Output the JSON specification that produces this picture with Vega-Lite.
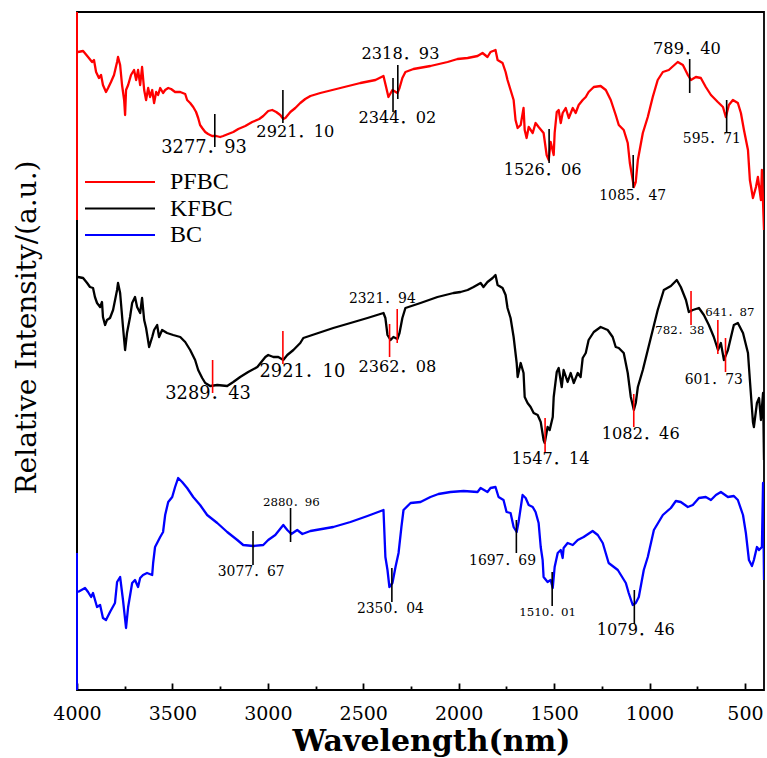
{
"$schema": "https://vega.github.io/schema/vega-lite/v6.json",
"width": 687, "height": 678,
"autosize": {"type": "none"},
"padding": {"left": 77, "top": 12, "right": 3, "bottom": 68},
"background": "white",
"view": {"stroke": "black", "strokeWidth": 1.8},
"datasets": {
"spectra": [
{"series":"PFBC","wavenumber":3995,"intensity":638},{"series":"PFBC","wavenumber":3968,"intensity":639},{"series":"PFBC","wavenumber":3942,"intensity":633},{"series":"PFBC","wavenumber":3921,"intensity":628},{"series":"PFBC","wavenumber":3911,"intensity":630},{"series":"PFBC","wavenumber":3900,"intensity":618},{"series":"PFBC","wavenumber":3885,"intensity":612},{"series":"PFBC","wavenumber":3874,"intensity":615},{"series":"PFBC","wavenumber":3864,"intensity":605},{"series":"PFBC","wavenumber":3848,"intensity":598},{"series":"PFBC","wavenumber":3837,"intensity":602},{"series":"PFBC","wavenumber":3822,"intensity":608},{"series":"PFBC","wavenumber":3806,"intensity":615},{"series":"PFBC","wavenumber":3790,"intensity":628},{"series":"PFBC","wavenumber":3785,"intensity":633},{"series":"PFBC","wavenumber":3774,"intensity":625},{"series":"PFBC","wavenumber":3764,"intensity":605},{"series":"PFBC","wavenumber":3753,"intensity":590},{"series":"PFBC","wavenumber":3748,"intensity":575},{"series":"PFBC","wavenumber":3743,"intensity":600},{"series":"PFBC","wavenumber":3732,"intensity":605},{"series":"PFBC","wavenumber":3717,"intensity":615},{"series":"PFBC","wavenumber":3701,"intensity":620},{"series":"PFBC","wavenumber":3690,"intensity":610},{"series":"PFBC","wavenumber":3680,"intensity":620},{"series":"PFBC","wavenumber":3669,"intensity":605},{"series":"PFBC","wavenumber":3659,"intensity":623},{"series":"PFBC","wavenumber":3648,"intensity":600},{"series":"PFBC","wavenumber":3638,"intensity":590},{"series":"PFBC","wavenumber":3627,"intensity":602},{"series":"PFBC","wavenumber":3617,"intensity":593},{"series":"PFBC","wavenumber":3606,"intensity":600},{"series":"PFBC","wavenumber":3596,"intensity":587},{"series":"PFBC","wavenumber":3585,"intensity":598},{"series":"PFBC","wavenumber":3575,"intensity":595},{"series":"PFBC","wavenumber":3564,"intensity":602},{"series":"PFBC","wavenumber":3549,"intensity":597},{"series":"PFBC","wavenumber":3538,"intensity":600},{"series":"PFBC","wavenumber":3522,"intensity":602},{"series":"PFBC","wavenumber":3507,"intensity":601},{"series":"PFBC","wavenumber":3486,"intensity":598},{"series":"PFBC","wavenumber":3459,"intensity":598},{"series":"PFBC","wavenumber":3433,"intensity":596},{"series":"PFBC","wavenumber":3423,"intensity":590},{"series":"PFBC","wavenumber":3407,"intensity":587},{"series":"PFBC","wavenumber":3391,"intensity":583},{"series":"PFBC","wavenumber":3376,"intensity":578},{"series":"PFBC","wavenumber":3365,"intensity":572},{"series":"PFBC","wavenumber":3355,"intensity":565},{"series":"PFBC","wavenumber":3344,"intensity":562},{"series":"PFBC","wavenumber":3328,"intensity":558},{"series":"PFBC","wavenumber":3313,"intensity":556},{"series":"PFBC","wavenumber":3292,"intensity":554},{"series":"PFBC","wavenumber":3271,"intensity":554},{"series":"PFBC","wavenumber":3250,"intensity":553},{"series":"PFBC","wavenumber":3234,"intensity":554},{"series":"PFBC","wavenumber":3208,"intensity":556},{"series":"PFBC","wavenumber":3181,"intensity":558},{"series":"PFBC","wavenumber":3155,"intensity":561},{"series":"PFBC","wavenumber":3118,"intensity":564},{"series":"PFBC","wavenumber":3082,"intensity":568},{"series":"PFBC","wavenumber":3045,"intensity":571},{"series":"PFBC","wavenumber":3024,"intensity":574},{"series":"PFBC","wavenumber":2998,"intensity":579},{"series":"PFBC","wavenumber":2977,"intensity":580},{"series":"PFBC","wavenumber":2956,"intensity":578},{"series":"PFBC","wavenumber":2935,"intensity":575},{"series":"PFBC","wavenumber":2919,"intensity":571},{"series":"PFBC","wavenumber":2908,"intensity":572},{"series":"PFBC","wavenumber":2882,"intensity":578},{"series":"PFBC","wavenumber":2856,"intensity":582},{"series":"PFBC","wavenumber":2830,"intensity":587},{"series":"PFBC","wavenumber":2804,"intensity":591},{"series":"PFBC","wavenumber":2777,"intensity":594},{"series":"PFBC","wavenumber":2725,"intensity":597},{"series":"PFBC","wavenumber":2620,"intensity":602},{"series":"PFBC","wavenumber":2515,"intensity":607},{"series":"PFBC","wavenumber":2436,"intensity":610},{"series":"PFBC","wavenumber":2394,"intensity":614},{"series":"PFBC","wavenumber":2379,"intensity":602},{"series":"PFBC","wavenumber":2368,"intensity":593},{"series":"PFBC","wavenumber":2347,"intensity":600},{"series":"PFBC","wavenumber":2321,"intensity":597},{"series":"PFBC","wavenumber":2310,"intensity":602},{"series":"PFBC","wavenumber":2295,"intensity":612},{"series":"PFBC","wavenumber":2279,"intensity":618},{"series":"PFBC","wavenumber":2237,"intensity":621},{"series":"PFBC","wavenumber":2148,"intensity":624},{"series":"PFBC","wavenumber":2058,"intensity":628},{"series":"PFBC","wavenumber":2006,"intensity":631},{"series":"PFBC","wavenumber":1953,"intensity":632},{"series":"PFBC","wavenumber":1901,"intensity":634},{"series":"PFBC","wavenumber":1875,"intensity":637},{"series":"PFBC","wavenumber":1849,"intensity":633},{"series":"PFBC","wavenumber":1833,"intensity":638},{"series":"PFBC","wavenumber":1807,"intensity":640},{"series":"PFBC","wavenumber":1796,"intensity":630},{"series":"PFBC","wavenumber":1770,"intensity":627},{"series":"PFBC","wavenumber":1754,"intensity":618},{"series":"PFBC","wavenumber":1744,"intensity":610},{"series":"PFBC","wavenumber":1728,"intensity":600},{"series":"PFBC","wavenumber":1712,"intensity":590},{"series":"PFBC","wavenumber":1702,"intensity":570},{"series":"PFBC","wavenumber":1691,"intensity":562},{"series":"PFBC","wavenumber":1675,"intensity":565},{"series":"PFBC","wavenumber":1660,"intensity":582},{"series":"PFBC","wavenumber":1654,"intensity":560},{"series":"PFBC","wavenumber":1644,"intensity":552},{"series":"PFBC","wavenumber":1633,"intensity":563},{"series":"PFBC","wavenumber":1612,"intensity":557},{"series":"PFBC","wavenumber":1597,"intensity":567},{"series":"PFBC","wavenumber":1581,"intensity":563},{"series":"PFBC","wavenumber":1555,"intensity":557},{"series":"PFBC","wavenumber":1539,"intensity":535},{"series":"PFBC","wavenumber":1528,"intensity":530},{"series":"PFBC","wavenumber":1518,"intensity":548},{"series":"PFBC","wavenumber":1502,"intensity":535},{"series":"PFBC","wavenumber":1497,"intensity":557},{"series":"PFBC","wavenumber":1486,"intensity":578},{"series":"PFBC","wavenumber":1476,"intensity":580},{"series":"PFBC","wavenumber":1465,"intensity":567},{"series":"PFBC","wavenumber":1455,"intensity":577},{"series":"PFBC","wavenumber":1439,"intensity":582},{"series":"PFBC","wavenumber":1423,"intensity":572},{"series":"PFBC","wavenumber":1402,"intensity":582},{"series":"PFBC","wavenumber":1387,"intensity":577},{"series":"PFBC","wavenumber":1371,"intensity":585},{"series":"PFBC","wavenumber":1350,"intensity":590},{"series":"PFBC","wavenumber":1334,"intensity":593},{"series":"PFBC","wavenumber":1319,"intensity":598},{"series":"PFBC","wavenumber":1292,"intensity":603},{"series":"PFBC","wavenumber":1256,"intensity":604},{"series":"PFBC","wavenumber":1229,"intensity":600},{"series":"PFBC","wavenumber":1203,"intensity":590},{"series":"PFBC","wavenumber":1177,"intensity":575},{"series":"PFBC","wavenumber":1161,"intensity":565},{"series":"PFBC","wavenumber":1135,"intensity":560},{"series":"PFBC","wavenumber":1114,"intensity":547},{"series":"PFBC","wavenumber":1103,"intensity":527},{"series":"PFBC","wavenumber":1088,"intensity":510},{"series":"PFBC","wavenumber":1082,"intensity":503},{"series":"PFBC","wavenumber":1072,"intensity":508},{"series":"PFBC","wavenumber":1061,"intensity":530},{"series":"PFBC","wavenumber":1035,"intensity":557},{"series":"PFBC","wavenumber":1009,"intensity":573},{"series":"PFBC","wavenumber":983,"intensity":593},{"series":"PFBC","wavenumber":957,"intensity":610},{"series":"PFBC","wavenumber":930,"intensity":618},{"series":"PFBC","wavenumber":899,"intensity":620},{"series":"PFBC","wavenumber":852,"intensity":628},{"series":"PFBC","wavenumber":825,"intensity":625},{"series":"PFBC","wavenumber":799,"intensity":615},{"series":"PFBC","wavenumber":783,"intensity":610},{"series":"PFBC","wavenumber":757,"intensity":613},{"series":"PFBC","wavenumber":731,"intensity":612},{"series":"PFBC","wavenumber":705,"intensity":603},{"series":"PFBC","wavenumber":678,"intensity":595},{"series":"PFBC","wavenumber":642,"intensity":588},{"series":"PFBC","wavenumber":615,"intensity":583},{"series":"PFBC","wavenumber":600,"intensity":573},{"series":"PFBC","wavenumber":584,"intensity":585},{"series":"PFBC","wavenumber":563,"intensity":590},{"series":"PFBC","wavenumber":537,"intensity":587},{"series":"PFBC","wavenumber":521,"intensity":577},{"series":"PFBC","wavenumber":505,"intensity":560},{"series":"PFBC","wavenumber":484,"intensity":540},{"series":"PFBC","wavenumber":474,"intensity":510},{"series":"PFBC","wavenumber":458,"intensity":492},{"series":"PFBC","wavenumber":442,"intensity":503},{"series":"PFBC","wavenumber":432,"intensity":513},{"series":"PFBC","wavenumber":416,"intensity":490},{"series":"PFBC","wavenumber":411,"intensity":520},{"series":"PFBC","wavenumber":400,"intensity":460},
{"series":"KFBC","wavenumber":3995,"intensity":413},{"series":"KFBC","wavenumber":3968,"intensity":412},{"series":"KFBC","wavenumber":3947,"intensity":407},{"series":"KFBC","wavenumber":3932,"intensity":403},{"series":"KFBC","wavenumber":3916,"intensity":402},{"series":"KFBC","wavenumber":3906,"intensity":393},{"series":"KFBC","wavenumber":3895,"intensity":387},{"series":"KFBC","wavenumber":3879,"intensity":383},{"series":"KFBC","wavenumber":3869,"intensity":388},{"series":"KFBC","wavenumber":3864,"intensity":373},{"series":"KFBC","wavenumber":3853,"intensity":365},{"series":"KFBC","wavenumber":3843,"intensity":370},{"series":"KFBC","wavenumber":3827,"intensity":372},{"series":"KFBC","wavenumber":3811,"intensity":380},{"series":"KFBC","wavenumber":3790,"intensity":400},{"series":"KFBC","wavenumber":3785,"intensity":407},{"series":"KFBC","wavenumber":3774,"intensity":397},{"series":"KFBC","wavenumber":3759,"intensity":363},{"series":"KFBC","wavenumber":3748,"intensity":340},{"series":"KFBC","wavenumber":3738,"intensity":357},{"series":"KFBC","wavenumber":3722,"intensity":373},{"series":"KFBC","wavenumber":3711,"intensity":387},{"series":"KFBC","wavenumber":3696,"intensity":393},{"series":"KFBC","wavenumber":3685,"intensity":383},{"series":"KFBC","wavenumber":3669,"intensity":377},{"series":"KFBC","wavenumber":3659,"intensity":392},{"series":"KFBC","wavenumber":3648,"intensity":370},{"series":"KFBC","wavenumber":3638,"intensity":362},{"series":"KFBC","wavenumber":3622,"intensity":343},{"series":"KFBC","wavenumber":3606,"intensity":353},{"series":"KFBC","wavenumber":3596,"intensity":360},{"series":"KFBC","wavenumber":3580,"intensity":365},{"series":"KFBC","wavenumber":3570,"intensity":353},{"series":"KFBC","wavenumber":3554,"intensity":360},{"series":"KFBC","wavenumber":3528,"intensity":357},{"series":"KFBC","wavenumber":3496,"intensity":355},{"series":"KFBC","wavenumber":3459,"intensity":353},{"series":"KFBC","wavenumber":3433,"intensity":348},{"series":"KFBC","wavenumber":3407,"intensity":340},{"series":"KFBC","wavenumber":3381,"intensity":330},{"series":"KFBC","wavenumber":3365,"intensity":320},{"series":"KFBC","wavenumber":3344,"intensity":312},{"series":"KFBC","wavenumber":3328,"intensity":307},{"series":"KFBC","wavenumber":3302,"intensity":304},{"series":"KFBC","wavenumber":3265,"intensity":305},{"series":"KFBC","wavenumber":3213,"intensity":304},{"series":"KFBC","wavenumber":3181,"intensity":308},{"series":"KFBC","wavenumber":3145,"intensity":313},{"series":"KFBC","wavenumber":3103,"intensity":318},{"series":"KFBC","wavenumber":3055,"intensity":323},{"series":"KFBC","wavenumber":3013,"intensity":333},{"series":"KFBC","wavenumber":2998,"intensity":335},{"series":"KFBC","wavenumber":2971,"intensity":333},{"series":"KFBC","wavenumber":2945,"intensity":333},{"series":"KFBC","wavenumber":2919,"intensity":330},{"series":"KFBC","wavenumber":2898,"intensity":335},{"series":"KFBC","wavenumber":2866,"intensity":340},{"series":"KFBC","wavenumber":2830,"intensity":347},{"series":"KFBC","wavenumber":2814,"intensity":352},{"series":"KFBC","wavenumber":2767,"intensity":355},{"series":"KFBC","wavenumber":2657,"intensity":362},{"series":"KFBC","wavenumber":2567,"intensity":367},{"series":"KFBC","wavenumber":2478,"intensity":372},{"series":"KFBC","wavenumber":2394,"intensity":377},{"series":"KFBC","wavenumber":2384,"intensity":372},{"series":"KFBC","wavenumber":2373,"intensity":355},{"series":"KFBC","wavenumber":2357,"intensity":350},{"series":"KFBC","wavenumber":2342,"intensity":353},{"series":"KFBC","wavenumber":2321,"intensity":351},{"series":"KFBC","wavenumber":2310,"intensity":357},{"series":"KFBC","wavenumber":2295,"intensity":372},{"series":"KFBC","wavenumber":2279,"intensity":382},{"series":"KFBC","wavenumber":2200,"intensity":387},{"series":"KFBC","wavenumber":2111,"intensity":393},{"series":"KFBC","wavenumber":2027,"intensity":397},{"series":"KFBC","wavenumber":1990,"intensity":398},{"series":"KFBC","wavenumber":1953,"intensity":400},{"series":"KFBC","wavenumber":1922,"intensity":403},{"series":"KFBC","wavenumber":1885,"intensity":407},{"series":"KFBC","wavenumber":1870,"intensity":403},{"series":"KFBC","wavenumber":1849,"intensity":408},{"series":"KFBC","wavenumber":1822,"intensity":412},{"series":"KFBC","wavenumber":1807,"intensity":415},{"series":"KFBC","wavenumber":1796,"intensity":405},{"series":"KFBC","wavenumber":1770,"intensity":402},{"series":"KFBC","wavenumber":1754,"intensity":395},{"series":"KFBC","wavenumber":1744,"intensity":382},{"series":"KFBC","wavenumber":1728,"intensity":372},{"series":"KFBC","wavenumber":1712,"intensity":353},{"series":"KFBC","wavenumber":1696,"intensity":327},{"series":"KFBC","wavenumber":1691,"intensity":313},{"series":"KFBC","wavenumber":1675,"intensity":327},{"series":"KFBC","wavenumber":1660,"intensity":317},{"series":"KFBC","wavenumber":1654,"intensity":293},{"series":"KFBC","wavenumber":1639,"intensity":287},{"series":"KFBC","wavenumber":1623,"intensity":283},{"series":"KFBC","wavenumber":1607,"intensity":277},{"series":"KFBC","wavenumber":1586,"intensity":275},{"series":"KFBC","wavenumber":1570,"intensity":268},{"series":"KFBC","wavenumber":1555,"intensity":250},{"series":"KFBC","wavenumber":1549,"intensity":247},{"series":"KFBC","wavenumber":1534,"intensity":263},{"series":"KFBC","wavenumber":1523,"intensity":260},{"series":"KFBC","wavenumber":1507,"intensity":273},{"series":"KFBC","wavenumber":1502,"intensity":293},{"series":"KFBC","wavenumber":1486,"intensity":318},{"series":"KFBC","wavenumber":1476,"intensity":322},{"series":"KFBC","wavenumber":1460,"intensity":303},{"series":"KFBC","wavenumber":1450,"intensity":320},{"series":"KFBC","wavenumber":1429,"intensity":308},{"series":"KFBC","wavenumber":1413,"intensity":317},{"series":"KFBC","wavenumber":1397,"intensity":307},{"series":"KFBC","wavenumber":1376,"intensity":317},{"series":"KFBC","wavenumber":1361,"intensity":313},{"series":"KFBC","wavenumber":1350,"intensity":332},{"series":"KFBC","wavenumber":1334,"intensity":337},{"series":"KFBC","wavenumber":1319,"intensity":350},{"series":"KFBC","wavenumber":1292,"intensity":358},{"series":"KFBC","wavenumber":1256,"intensity":363},{"series":"KFBC","wavenumber":1219,"intensity":360},{"series":"KFBC","wavenumber":1193,"intensity":353},{"series":"KFBC","wavenumber":1177,"intensity":343},{"series":"KFBC","wavenumber":1161,"intensity":342},{"series":"KFBC","wavenumber":1135,"intensity":337},{"series":"KFBC","wavenumber":1114,"intensity":317},{"series":"KFBC","wavenumber":1098,"intensity":293},{"series":"KFBC","wavenumber":1082,"intensity":280},{"series":"KFBC","wavenumber":1072,"intensity":287},{"series":"KFBC","wavenumber":1061,"intensity":303},{"series":"KFBC","wavenumber":1035,"intensity":320},{"series":"KFBC","wavenumber":1009,"intensity":340},{"series":"KFBC","wavenumber":983,"intensity":360},{"series":"KFBC","wavenumber":957,"intensity":380},{"series":"KFBC","wavenumber":925,"intensity":400},{"series":"KFBC","wavenumber":888,"intensity":404},{"series":"KFBC","wavenumber":857,"intensity":410},{"series":"KFBC","wavenumber":836,"intensity":403},{"series":"KFBC","wavenumber":809,"intensity":390},{"series":"KFBC","wavenumber":794,"intensity":378},{"series":"KFBC","wavenumber":773,"intensity":380},{"series":"KFBC","wavenumber":741,"intensity":382},{"series":"KFBC","wavenumber":715,"intensity":375},{"series":"KFBC","wavenumber":689,"intensity":365},{"series":"KFBC","wavenumber":663,"intensity":353},{"series":"KFBC","wavenumber":641,"intensity":340},{"series":"KFBC","wavenumber":626,"intensity":347},{"series":"KFBC","wavenumber":610,"intensity":330},{"series":"KFBC","wavenumber":589,"intensity":340},{"series":"KFBC","wavenumber":573,"intensity":353},{"series":"KFBC","wavenumber":558,"intensity":365},{"series":"KFBC","wavenumber":537,"intensity":367},{"series":"KFBC","wavenumber":510,"intensity":357},{"series":"KFBC","wavenumber":484,"intensity":337},{"series":"KFBC","wavenumber":474,"intensity":310},{"series":"KFBC","wavenumber":458,"intensity":268},{"series":"KFBC","wavenumber":453,"intensity":263},{"series":"KFBC","wavenumber":437,"intensity":287},{"series":"KFBC","wavenumber":426,"intensity":292},{"series":"KFBC","wavenumber":416,"intensity":270},{"series":"KFBC","wavenumber":405,"intensity":297},{"series":"KFBC","wavenumber":400,"intensity":230},
{"series":"BC","wavenumber":3995,"intensity":98},{"series":"BC","wavenumber":3958,"intensity":102},{"series":"BC","wavenumber":3942,"intensity":98},{"series":"BC","wavenumber":3926,"intensity":93},{"series":"BC","wavenumber":3916,"intensity":97},{"series":"BC","wavenumber":3895,"intensity":83},{"series":"BC","wavenumber":3879,"intensity":85},{"series":"BC","wavenumber":3864,"intensity":72},{"series":"BC","wavenumber":3848,"intensity":70},{"series":"BC","wavenumber":3827,"intensity":78},{"series":"BC","wavenumber":3801,"intensity":87},{"series":"BC","wavenumber":3790,"intensity":108},{"series":"BC","wavenumber":3774,"intensity":113},{"series":"BC","wavenumber":3759,"intensity":90},{"series":"BC","wavenumber":3743,"intensity":62},{"series":"BC","wavenumber":3732,"intensity":83},{"series":"BC","wavenumber":3711,"intensity":107},{"series":"BC","wavenumber":3696,"intensity":110},{"series":"BC","wavenumber":3680,"intensity":103},{"series":"BC","wavenumber":3669,"intensity":112},{"series":"BC","wavenumber":3654,"intensity":115},{"series":"BC","wavenumber":3633,"intensity":117},{"series":"BC","wavenumber":3606,"intensity":115},{"series":"BC","wavenumber":3601,"intensity":127},{"series":"BC","wavenumber":3591,"intensity":143},{"series":"BC","wavenumber":3564,"intensity":153},{"series":"BC","wavenumber":3549,"intensity":158},{"series":"BC","wavenumber":3538,"intensity":175},{"series":"BC","wavenumber":3522,"intensity":188},{"series":"BC","wavenumber":3501,"intensity":193},{"series":"BC","wavenumber":3486,"intensity":203},{"series":"BC","wavenumber":3470,"intensity":212},{"series":"BC","wavenumber":3449,"intensity":208},{"series":"BC","wavenumber":3423,"intensity":202},{"series":"BC","wavenumber":3391,"intensity":193},{"series":"BC","wavenumber":3355,"intensity":185},{"series":"BC","wavenumber":3318,"intensity":175},{"series":"BC","wavenumber":3265,"intensity":167},{"series":"BC","wavenumber":3213,"intensity":158},{"series":"BC","wavenumber":3160,"intensity":150},{"series":"BC","wavenumber":3129,"intensity":145},{"series":"BC","wavenumber":3076,"intensity":144},{"series":"BC","wavenumber":3024,"intensity":145},{"series":"BC","wavenumber":2998,"intensity":150},{"series":"BC","wavenumber":2961,"intensity":155},{"series":"BC","wavenumber":2919,"intensity":165},{"series":"BC","wavenumber":2898,"intensity":160},{"series":"BC","wavenumber":2877,"intensity":156},{"series":"BC","wavenumber":2846,"intensity":160},{"series":"BC","wavenumber":2819,"intensity":156},{"series":"BC","wavenumber":2777,"intensity":159},{"series":"BC","wavenumber":2657,"intensity":163},{"series":"BC","wavenumber":2567,"intensity":168},{"series":"BC","wavenumber":2478,"intensity":174},{"series":"BC","wavenumber":2394,"intensity":180},{"series":"BC","wavenumber":2384,"intensity":133},{"series":"BC","wavenumber":2373,"intensity":120},{"series":"BC","wavenumber":2363,"intensity":103},{"series":"BC","wavenumber":2347,"intensity":107},{"series":"BC","wavenumber":2331,"intensity":123},{"series":"BC","wavenumber":2315,"intensity":137},{"series":"BC","wavenumber":2300,"intensity":163},{"series":"BC","wavenumber":2289,"intensity":180},{"series":"BC","wavenumber":2252,"intensity":187},{"series":"BC","wavenumber":2200,"intensity":188},{"series":"BC","wavenumber":2148,"intensity":193},{"series":"BC","wavenumber":2106,"intensity":196},{"series":"BC","wavenumber":2043,"intensity":198},{"series":"BC","wavenumber":1974,"intensity":199},{"series":"BC","wavenumber":1901,"intensity":198},{"series":"BC","wavenumber":1885,"intensity":202},{"series":"BC","wavenumber":1849,"intensity":198},{"series":"BC","wavenumber":1833,"intensity":202},{"series":"BC","wavenumber":1807,"intensity":203},{"series":"BC","wavenumber":1791,"intensity":193},{"series":"BC","wavenumber":1765,"intensity":190},{"series":"BC","wavenumber":1749,"intensity":178},{"series":"BC","wavenumber":1728,"intensity":177},{"series":"BC","wavenumber":1712,"intensity":163},{"series":"BC","wavenumber":1696,"intensity":158},{"series":"BC","wavenumber":1686,"intensity":168},{"series":"BC","wavenumber":1665,"intensity":195},{"series":"BC","wavenumber":1649,"intensity":192},{"series":"BC","wavenumber":1633,"intensity":185},{"series":"BC","wavenumber":1612,"intensity":183},{"series":"BC","wavenumber":1597,"intensity":178},{"series":"BC","wavenumber":1581,"intensity":167},{"series":"BC","wavenumber":1570,"intensity":143},{"series":"BC","wavenumber":1560,"intensity":130},{"series":"BC","wavenumber":1555,"intensity":113},{"series":"BC","wavenumber":1534,"intensity":108},{"series":"BC","wavenumber":1518,"intensity":110},{"series":"BC","wavenumber":1507,"intensity":102},{"series":"BC","wavenumber":1497,"intensity":123},{"series":"BC","wavenumber":1481,"intensity":137},{"series":"BC","wavenumber":1465,"intensity":140},{"series":"BC","wavenumber":1455,"intensity":132},{"series":"BC","wavenumber":1450,"intensity":142},{"series":"BC","wavenumber":1429,"intensity":147},{"series":"BC","wavenumber":1402,"intensity":145},{"series":"BC","wavenumber":1376,"intensity":150},{"series":"BC","wavenumber":1345,"intensity":153},{"series":"BC","wavenumber":1298,"intensity":159},{"series":"BC","wavenumber":1271,"intensity":155},{"series":"BC","wavenumber":1245,"intensity":147},{"series":"BC","wavenumber":1214,"intensity":127},{"series":"BC","wavenumber":1166,"intensity":120},{"series":"BC","wavenumber":1124,"intensity":107},{"series":"BC","wavenumber":1109,"intensity":97},{"series":"BC","wavenumber":1088,"intensity":85},{"series":"BC","wavenumber":1072,"intensity":87},{"series":"BC","wavenumber":1056,"intensity":93},{"series":"BC","wavenumber":1030,"intensity":120},{"series":"BC","wavenumber":1009,"intensity":133},{"series":"BC","wavenumber":977,"intensity":160},{"series":"BC","wavenumber":930,"intensity":175},{"series":"BC","wavenumber":888,"intensity":182},{"series":"BC","wavenumber":862,"intensity":189},{"series":"BC","wavenumber":836,"intensity":188},{"series":"BC","wavenumber":799,"intensity":183},{"series":"BC","wavenumber":773,"intensity":185},{"series":"BC","wavenumber":741,"intensity":192},{"series":"BC","wavenumber":705,"intensity":193},{"series":"BC","wavenumber":678,"intensity":190},{"series":"BC","wavenumber":652,"intensity":195},{"series":"BC","wavenumber":626,"intensity":198},{"series":"BC","wavenumber":589,"intensity":193},{"series":"BC","wavenumber":558,"intensity":194},{"series":"BC","wavenumber":537,"intensity":190},{"series":"BC","wavenumber":510,"intensity":175},{"series":"BC","wavenumber":495,"intensity":157},{"series":"BC","wavenumber":479,"intensity":130},{"series":"BC","wavenumber":463,"intensity":124},{"series":"BC","wavenumber":453,"intensity":130},{"series":"BC","wavenumber":437,"intensity":143},{"series":"BC","wavenumber":426,"intensity":140},{"series":"BC","wavenumber":411,"intensity":143},{"series":"BC","wavenumber":405,"intensity":207},{"series":"BC","wavenumber":400,"intensity":110}
],
"layerAxes": [
{"series":"PFBC","wavenumber":4000,"intensity":678,"intensity2":470},
{"series":"KFBC","wavenumber":4000,"intensity":470,"intensity2":137},
{"series":"BC","wavenumber":4000,"intensity":137,"intensity2":0}
],
"peakTicks": [
{"series":"PFBC","wavenumber":3277.93,"intensity":576,"intensity2":543},
{"series":"PFBC","wavenumber":2921.10,"intensity":600,"intensity2":567},
{"series":"PFBC","wavenumber":2344.02,"intensity":612,"intensity2":578},
{"series":"PFBC","wavenumber":2318.93,"intensity":625,"intensity2":591},
{"series":"PFBC","wavenumber":1526.06,"intensity":561,"intensity2":527},
{"series":"PFBC","wavenumber":1085.47,"intensity":535,"intensity2":502},
{"series":"PFBC","wavenumber":789.40,"intensity":631,"intensity2":597},
{"series":"PFBC","wavenumber":595.71,"intensity":590,"intensity2":557},
{"series":"KFBC","wavenumber":3289.43,"intensity":330,"intensity2":297},
{"series":"KFBC","wavenumber":2921.10,"intensity":359,"intensity2":326},
{"series":"KFBC","wavenumber":2362.08,"intensity":366,"intensity2":333},
{"series":"KFBC","wavenumber":2321.94,"intensity":381,"intensity2":347},
{"series":"KFBC","wavenumber":1547.14,"intensity":272,"intensity2":238},
{"series":"KFBC","wavenumber":1082.46,"intensity":296,"intensity2":263},
{"series":"KFBC","wavenumber":782.38,"intensity":399,"intensity2":365},
{"series":"KFBC","wavenumber":641.87,"intensity":370,"intensity2":336},
{"series":"KFBC","wavenumber":601.73,"intensity":352,"intensity2":318},
{"series":"BC","wavenumber":3077.67,"intensity":159,"intensity2":125},
{"series":"BC","wavenumber":2880.96,"intensity":182,"intensity2":148},
{"series":"BC","wavenumber":2350.04,"intensity":122,"intensity2":88},
{"series":"BC","wavenumber":1697.69,"intensity":170,"intensity2":137},
{"series":"BC","wavenumber":1510.01,"intensity":118,"intensity2":84},
{"series":"BC","wavenumber":1079.46,"intensity":100,"intensity2":66}
],
"labelsXL": [
{"label":"3277．93","wavenumber":3334,"intensity":542},
{"label":"3289．43","wavenumber":3313,"intensity":296},
{"label":"2921．10","wavenumber":2819,"intensity":318}
],
"labelsL": [
{"label":"2921．10","wavenumber":2856,"intensity":558},
{"label":"2318．93","wavenumber":2305,"intensity":636},
{"label":"2344．02","wavenumber":2321,"intensity":572},
{"label":"1526．06","wavenumber":1560,"intensity":520},
{"label":"789．40","wavenumber":804,"intensity":641},
{"label":"2362．08","wavenumber":2321,"intensity":323},
{"label":"1547．14","wavenumber":1518,"intensity":231},
{"label":"1082．46","wavenumber":1046,"intensity":256},
{"label":"1079．46","wavenumber":1072,"intensity":60}
],
"labelsM": [
{"label":"1085．47","wavenumber":1088,"intensity":494},
{"label":"595．71","wavenumber":673,"intensity":551},
{"label":"2321．94","wavenumber":2400,"intensity":391},
{"label":"601．73","wavenumber":663,"intensity":310},
{"label":"3077．67","wavenumber":3087,"intensity":118},
{"label":"2350．04","wavenumber":2358,"intensity":81},
{"label":"1697．69","wavenumber":1770,"intensity":129}
],
"labelsS": [
{"label":"782．38","wavenumber":841,"intensity":360},
{"label":"641．87","wavenumber":579,"intensity":378},
{"label":"2880．96","wavenumber":2877,"intensity":188},
{"label":"1510．01","wavenumber":1534,"intensity":78}
]
},
"encoding": {
"x": {"field": "wavenumber", "type": "quantitative",
 "scale": {"domain": [4000, 400], "nice": false, "zero": false},
 "axis": {"title": "Wavelength(nm)", "values": [4000,3750,3500,3250,3000,2750,2500,2250,2000,1750,1500,1250,1000,750,500],
  "format": "d", "labelExpr": "datum.value % 500 === 0 ? datum.label : ''",
  "tickSize": {"condition": {"test": "datum.value % 500 === 0", "value": -7}, "value": -4},
  "tickColor": "black", "tickWidth": 1.8, "domain": false, "grid": false,
  "labelFont": "DejaVu Serif", "labelFontSize": 19, "labelColor": "black", "labelPadding": 21, "labelFlush": false, "labelOverlap": false,
  "titleFont": "DejaVu Serif", "titleFontSize": 30, "titleFontWeight": "bold", "titleColor": "black",
  "titleX": 354, "titleY": 60, "titleAlign": "center", "titleBaseline": "alphabetic"}},
"y": {"field": "intensity", "type": "quantitative",
 "scale": {"domain": [0, 678], "nice": false, "zero": false},
 "axis": {"title": "Relative Intensity/(a.u.)", "labels": false, "ticks": false, "domain": false, "grid": false,
  "titleFont": "DejaVu Serif", "titleFontSize": 28, "titleFontWeight": "normal", "titleColor": "black",
  "titleX": -50, "titleY": 315, "titleAngle": 270, "titleAlign": "center", "titleBaseline": "middle"}}
},
"layer": [
{"data": {"name": "layerAxes"},
 "mark": {"type": "rule", "strokeWidth": 2},
 "encoding": {"y2": {"field": "intensity2"},
  "color": {"field": "series", "type": "nominal", "scale": {"domain": ["PFBC","KFBC","BC"], "range": ["#ff0000","#000000","#0000ff"]}}}},
{"data": {"name": "spectra"},
 "mark": {"type": "line", "strokeWidth": 2.3, "strokeJoin": "round", "clip": true},
 "encoding": {
  "color": {"field": "series", "type": "nominal", "scale": {"domain": ["PFBC","KFBC","BC"], "range": ["#ff0000","#000000","#0000ff"]},
   "legend": {"orient": "none", "legendX": 31, "legendY": 158, "title": null, "padding": 0,
    "symbolType": "M-35,0H35", "symbolSize": 4, "symbolStrokeWidth": 2, "symbolOffset": 0,
    "labelFont": "Liberation Serif", "labelFontSize": 24, "labelColor": "black", "labelOffset": 38, "rowPadding": 2.5}}}},
{"data": {"name": "peakTicks"},
 "mark": {"type": "rule", "strokeWidth": 1.6},
 "encoding": {"y2": {"field": "intensity2"},
  "color": {"condition": {"test": "datum.series === 'KFBC'", "value": "#ff0000"}, "value": "#000000"}}},
{"data": {"name": "labelsXL"},
 "mark": {"type": "text", "font": "DejaVu Serif, Noto Sans CJK SC", "fontSize": 17.8, "align": "center", "baseline": "middle", "color": "black"},
 "encoding": {"text": {"field": "label"}}},
{"data": {"name": "labelsL"},
 "mark": {"type": "text", "font": "DejaVu Serif, Noto Sans CJK SC", "fontSize": 16.2, "align": "center", "baseline": "middle", "color": "black"},
 "encoding": {"text": {"field": "label"}}},
{"data": {"name": "labelsM"},
 "mark": {"type": "text", "font": "DejaVu Serif, Noto Sans CJK SC", "fontSize": 13.9, "align": "center", "baseline": "middle", "color": "black"},
 "encoding": {"text": {"field": "label"}}},
{"data": {"name": "labelsS"},
 "mark": {"type": "text", "font": "DejaVu Serif, Noto Sans CJK SC", "fontSize": 11.8, "align": "center", "baseline": "middle", "color": "black"},
 "encoding": {"text": {"field": "label"}}}
]
}
